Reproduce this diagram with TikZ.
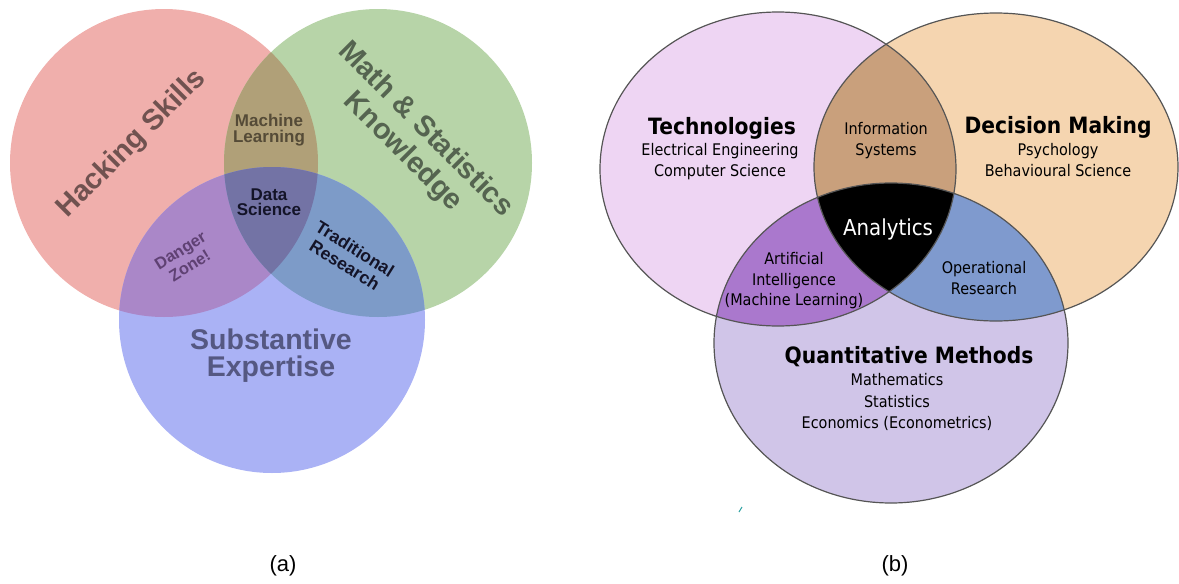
\documentclass[tikz,border=0pt]{standalone}
\usepackage{fontspec}
\setmainfont{Liberation Sans}
\newfontfamily\tahoma[FakeStretch=0.9]{DejaVu Sans}
\usetikzlibrary{positioning}

% left diagram colours
\definecolor{hackred}{RGB}{240,175,172}
\definecolor{mathgreen}{RGB}{183,212,168}
\definecolor{subblue}{RGB}{170,178,245}
\definecolor{mlbrown}{RGB}{176,160,120}
\definecolor{dzpurple}{RGB}{170,135,200}
\definecolor{trblue}{RGB}{125,155,200}
\definecolor{dsgray}{RGB}{115,115,165}
\definecolor{hacktext}{RGB}{112,82,80}
\definecolor{mathtext}{RGB}{85,100,80}
\definecolor{subtext}{RGB}{85,88,130}
\definecolor{mltext}{RGB}{85,75,55}
\definecolor{dztext}{RGB}{95,65,115}
\definecolor{darktext}{RGB}{20,20,40}
% right diagram colours
\definecolor{techpink}{RGB}{238,213,243}
\definecolor{decorange}{RGB}{245,213,176}
\definecolor{quantlilac}{RGB}{208,197,232}
\definecolor{infobrown}{RGB}{201,160,124}
\definecolor{aipurple}{RGB}{170,120,205}
\definecolor{orblue}{RGB}{127,154,206}
\definecolor{edgegray}{RGB}{85,85,85}
\definecolor{tickteal}{RGB}{40,160,160}

\def\hackpath{(164,163) circle [radius=154]}
\def\mathpath{(378,163) circle [radius=154]}
\def\subpath{(272,320) circle [radius=153]}
\def\techpath{(778,169) ellipse [x radius=178, y radius=157]}
\def\decpath{(996,167) ellipse [x radius=182, y radius=154]}
\def\quantpath{(891,343) ellipse [x radius=177, y radius=160]}

\tikzset{
  bigbold/.style={font=\fontsize{29}{32}\selectfont\bfseries, align=center},
  smallbold/.style={font=\fontsize{17}{16.5}\selectfont\bfseries, align=center},
  vennhead/.style={font=\tahoma\fontsize{22.5}{26}\selectfont\bfseries, align=center},
  vennsub/.style={font=\tahoma\fontsize{16}{21}\selectfont, align=center},
  vennline/.style={draw=edgegray, line width=1.2pt}
}

\begin{document}
\begin{tikzpicture}[x=1pt, y=-1pt]
  \useasboundingbox (0,0) rectangle (1179,584);

  % (a) data science venn
  \fill[hackred] \hackpath;
  \fill[mathgreen] \mathpath;
  \fill[subblue] \subpath;
  \begin{scope}
    \clip \hackpath;
    \fill[mlbrown] \mathpath;
    \fill[dzpurple] \subpath;
  \end{scope}
  \begin{scope}
    \clip \mathpath;
    \fill[trblue] \subpath;
  \end{scope}
  \begin{scope}
    \clip \hackpath;
    \clip \mathpath;
    \fill[dsgray] \subpath;
  \end{scope}

  \node[bigbold, text=hacktext, rotate=45] (hack) at (132,144) {Hacking Skills};
  \node[bigbold, text=mathtext, rotate=-45] (math) at (414,141) {Math \& Statistics\\Knowledge};
  \node[bigbold, font=\fontsize{28.5}{27}\selectfont\bfseries, text=subtext] (subst) at (271,356) {Substantive\\Expertise};
  \node[smallbold, text=mltext] (ml) at (269,130) {Machine\\Learning};
  \node[smallbold, font=\fontsize{17}{15.5}\selectfont\bfseries, text=darktext] (ds) at (269,202) {Data\\Science};
  \node[smallbold, font=\fontsize{17.5}{19}\selectfont\bfseries, text=darktext, rotate=-32] (trad) at (350,257) {Traditional\\Research};
  \node[smallbold, font=\fontsize{16.5}{18}\selectfont\bfseries, text=dztext, rotate=32] (danger) at (185,258) {Danger\\Zone!};

  % (b) analytics venn
  \fill[techpink] \techpath;
  \fill[decorange] \decpath;
  \fill[quantlilac] \quantpath;
  \begin{scope}
    \clip \techpath;
    \fill[infobrown] \decpath;
    \fill[aipurple] \quantpath;
  \end{scope}
  \begin{scope}
    \clip \decpath;
    \fill[orblue] \quantpath;
  \end{scope}
  \begin{scope}
    \clip \techpath;
    \clip \decpath;
    \fill[black] \quantpath;
  \end{scope}
  \draw[vennline] \techpath;
  \draw[vennline] \decpath;
  \draw[vennline] \quantpath;

  \node[vennhead] (tech) at (722,128) {Technologies};
  \node[vennsub] (techsub) at (720,162) {Electrical Engineering\\Computer Science};
  \node[vennsub] (info) at (886,141) {Information\\Systems};
  \node[vennhead] (dec) at (1058,127) {Decision Making};
  \node[vennsub] (decsub) at (1058,160) {Psychology\\Behavioural Science};
  \node[vennsub, font=\tahoma\fontsize{22}{26}\selectfont, text=white] (analytics) at (888,229) {Analytics};
  \node[vennsub, font=\tahoma\fontsize{16}{20.5}\selectfont] (ai) at (794,281) {Artificial\\Intelligence\\(Machine Learning)};
  \node[vennsub] (opres) at (984,278) {Operational\\Research};
  \node[vennhead] (quant) at (909,357) {Quantitative Methods};
  \node[vennsub, font=\tahoma\fontsize{16}{21.5}\selectfont] (quantsub) at (897,402) {Mathematics\\Statistics\\Economics (Econometrics)};

  \coordinate (ticka) at (739,512);
  \coordinate (tickb) at (742,507);
  \draw[tickteal, line width=1pt] (ticka) -- (tickb);

  % captions
  \node[font=\fontsize{22}{26}\selectfont] (capa) at (283,566) {(a)};
  \node[font=\fontsize{22}{26}\selectfont] (capb) at (895,566) {(b)};
\end{tikzpicture}
\end{document}
